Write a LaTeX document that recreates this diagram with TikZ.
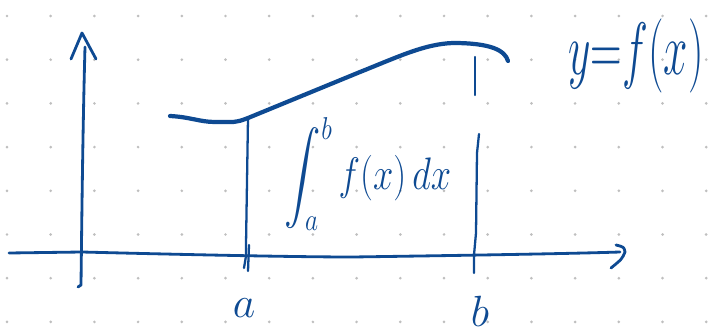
\documentclass[tikz,border=0pt]{standalone}
\usepackage{xcolor}
\usepackage{amsmath}
\usepackage{tikz}
\usetikzlibrary{positioning, calc}
\definecolor{ink}{RGB}{14,74,146}
\tikzstyle{Pen} = [
ink, 
line width=1.6pt, 
line cap=round, line join=round
]
\tikzstyle{Curve} = [Pen, line width=2.4pt]
\tikzstyle{Dot} = [fill=black!25, draw=none]
\tikzstyle{Hand} = [text=ink, inner sep=0pt]

\begin{document}
\begin{tikzpicture}[x=0.02cm, y=-0.02cm]
			\useasboundingbox (0,0) rectangle (713,334);
			% dot grid
			\foreach \i in {0,...,16}
				\foreach \j in {0,...,7}
					\fill[Dot] ({7+43.7*\i},{16+43.7*\j}) circle (0.85pt);
			
			% axes
			\draw[Pen] (85,47) .. controls (83,120) and (82,200) .. (81,285) -- (78,287);
			\draw[Pen] (71,59) -- (82,33) -- (96,59);
			\draw[Pen] (9,253) -- (82,252) .. controls (200,255) and (300,257) .. (353,257)
				.. controls (420,256) and (560,254) .. (620,252);
			\draw[Pen] (616,245) .. controls (624,247) .. (625,252) .. controls (622,259) .. (611,268);
			
			% y = f(x)
			\draw[Curve] (170,116) .. controls (190,117) and (200,122) .. (215,122)
				-- (233,122) .. controls (240,121) .. (248,118)
				-- (360,72) .. controls (400,56) and (425,44) .. (453,43)
				.. controls (490,43) and (505,50) .. (508,61);
			
			% bounds
			\coordinate (A) at (246,256);
			\coordinate (B) at (474,255);
			\draw[Pen, line width=1.3pt] (248,118) -- (246,245) -- (A) -- (244,268);
			\draw[Pen, line width=1.3pt] (249,245) -- (248,271);
			\draw[Pen, line width=1.3pt] (475,57) -- (475,95);
			\draw[Pen, line width=1.3pt] (479,134) -- (477,153) -- (476,233) -- (B) -- (474,273);
			
			\node[Hand, font=\fontsize{30}{32}\selectfont] (a) at (244,308) {$a$};
			\node[Hand, font=\fontsize{30}{32}\selectfont] (b) at (480,311) {$b$};
			\node[Hand, font=\fontsize{26}{28}\selectfont] (fx) at (636,56)
				{\scalebox{1}[1.7]{$y{=}f(x)$}};
			\node[Hand, font=\fontsize{22}{26}\selectfont] (int) at (368,174)
				{\scalebox{1}[1.25]{$\displaystyle\int_a^b f(x)\,dx$}};
		\end{tikzpicture}
\end{document}
